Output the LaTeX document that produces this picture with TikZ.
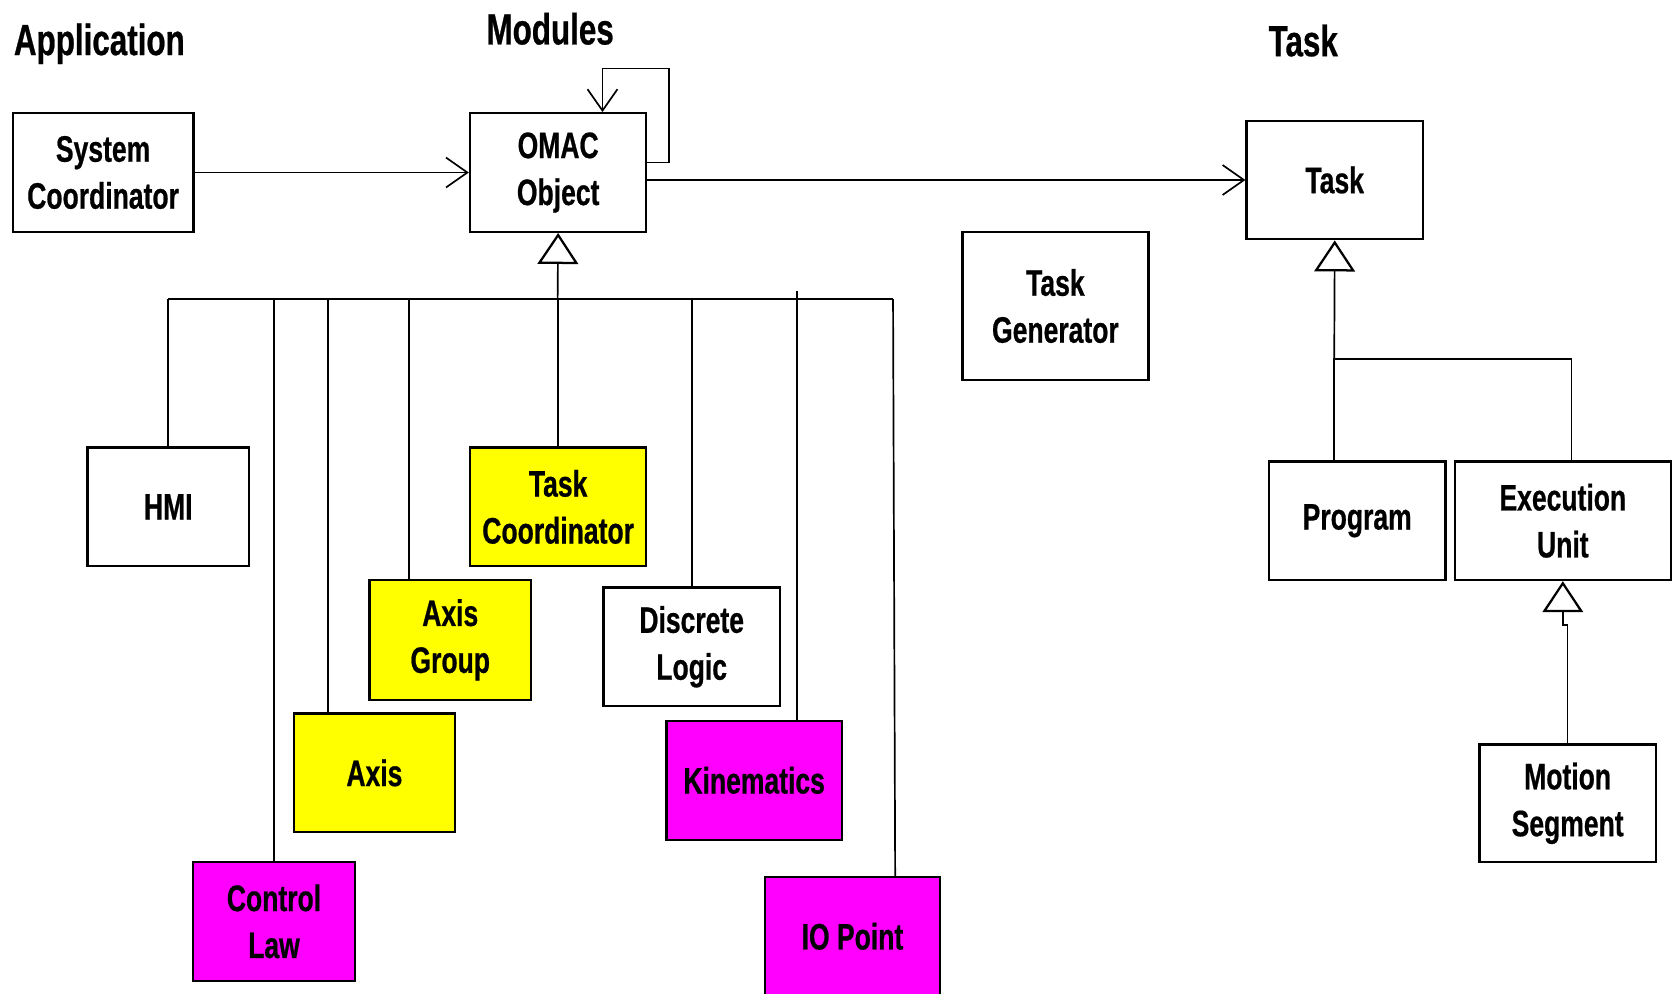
\documentclass[tikz,border=0pt]{standalone}
\usepackage{fontspec}
\setmainfont{Liberation Sans}[FakeStretch=0.72, BoldFeatures={FakeBold=0.6}]
\usetikzlibrary{arrows.meta, positioning}

\definecolor{omacyellow}{RGB}{255,255,0}
\definecolor{omacmagenta}{RGB}{255,0,255}

\begin{document}
\begin{tikzpicture}[x=0.01cm, y=-0.01cm, font=\bfseries\fontsize{9.8}{12.5}\selectfont,
	box/.style={draw, line width=0.6pt, align=center, inner sep=0pt, minimum width=1.65cm, minimum height=1.11cm},
	title/.style={font=\bfseries\fontsize{11.6}{14}\selectfont},
	tree/.style={line width=0.45pt},
	link/.style={line width=0.45pt, -{Straight Barb[length=2mm, width=2.8mm]}},
	isa/.style={line width=0.45pt, -{Triangle[open, length=2.9mm, width=3.8mm, line width=0.6pt]}}]
	\useasboundingbox (0,0) rectangle (1568,930);

	% titles
	\node[title] (application) at (93,41) {Application};
	\node[title] (modules) at (515,27) {Modules};
	\node[title] (tasktitle) at (1220,38) {Task};

	% application and modules
	\node[box, minimum width=1.69cm] (syscoord) at (96.5,161.5) {System\\Coordinator};
	\node[box] (omac) at (522.5,161.5) {OMAC\\Object};
	\node[box, minimum width=1.51cm] (hmi) at (157.5,474.5) {HMI};
	\node[box, fill=omacyellow] (taskcoord) at (522.5,474.5) {Task\\Coordinator};
	\node[box, fill=omacyellow, minimum width=1.51cm, minimum height=1.12cm] (axisgroup) at (421.5,599) {Axis\\Group};
	\node[box] (discrete) at (647.5,605.5) {Discrete\\Logic};
	\node[box, fill=omacyellow, minimum width=1.51cm] (axis) at (350.5,723.5) {Axis};
	\node[box, fill=omacmagenta, minimum width=1.64cm] (kinematics) at (706,730.5) {Kinematics};
	\node[box, fill=omacmagenta, minimum width=1.51cm] (controllaw) at (256.5,862.5) {Control\\Law};
	\node[box, fill=omacmagenta, minimum width=1.64cm] (iopoint) at (798,876.5) {IO Point};

	% task side
	\node[box] (task) at (1249.5,168.5) {Task};
	\node[box, minimum width=1.74cm, minimum height=1.39cm] (taskgen) at (988,286.5) {Task\\Generator};
	\node[box] (program) at (1270.5,487.5) {Program};
	\node[box, minimum width=2.02cm] (execunit) at (1463,487.5) {Execution\\Unit};
	\node[box, minimum height=1.10cm] (motionseg) at (1467.5,752) {Motion\\Segment};

	% associations
	\draw[link] (syscoord.east) -- (omac.west);
	\draw[link] (omac.east |- 0,152) -| (626,64) -| (omac.north -| 564,0);
	\draw[link] (omac.east |- task.west) -- (task.west);

	% module inheritance
	\coordinate (bus) at (522,280);
	\draw[isa] (bus) -- (omac.south);
	\draw[tree] (hmi.north |- bus) -- (836,280);
	\draw[tree] (hmi.north |- bus) -- (hmi.north);
	\draw[tree] (taskcoord.north |- bus) -- (taskcoord.north);
	\draw[tree] (controllaw.north |- bus) -- (controllaw.north);
	\draw[tree] (307,280) -- (axis.north -| 307,0);
	\draw[tree] (383,280) -- (axisgroup.north -| 383,0);
	\draw[tree] (discrete.north |- bus) -- (discrete.north);
	\draw[tree] (746,272) -- (kinematics.north -| 746,0);
	\draw[tree] (836,280) -- (iopoint.north -| 838,0);

	% task inheritance
	\coordinate (taskbus) at (1249,336);
	\draw[isa] (taskbus) -- (task.south);
	\draw[tree] (program.north -| taskbus) -- (taskbus) -- (1471,336) -- (execunit.north -| 1471,0);
	\draw[isa] (motionseg.north) -- (1467.5,585) -- (1463,585) -- (execunit.south);
\end{tikzpicture}
\end{document}
